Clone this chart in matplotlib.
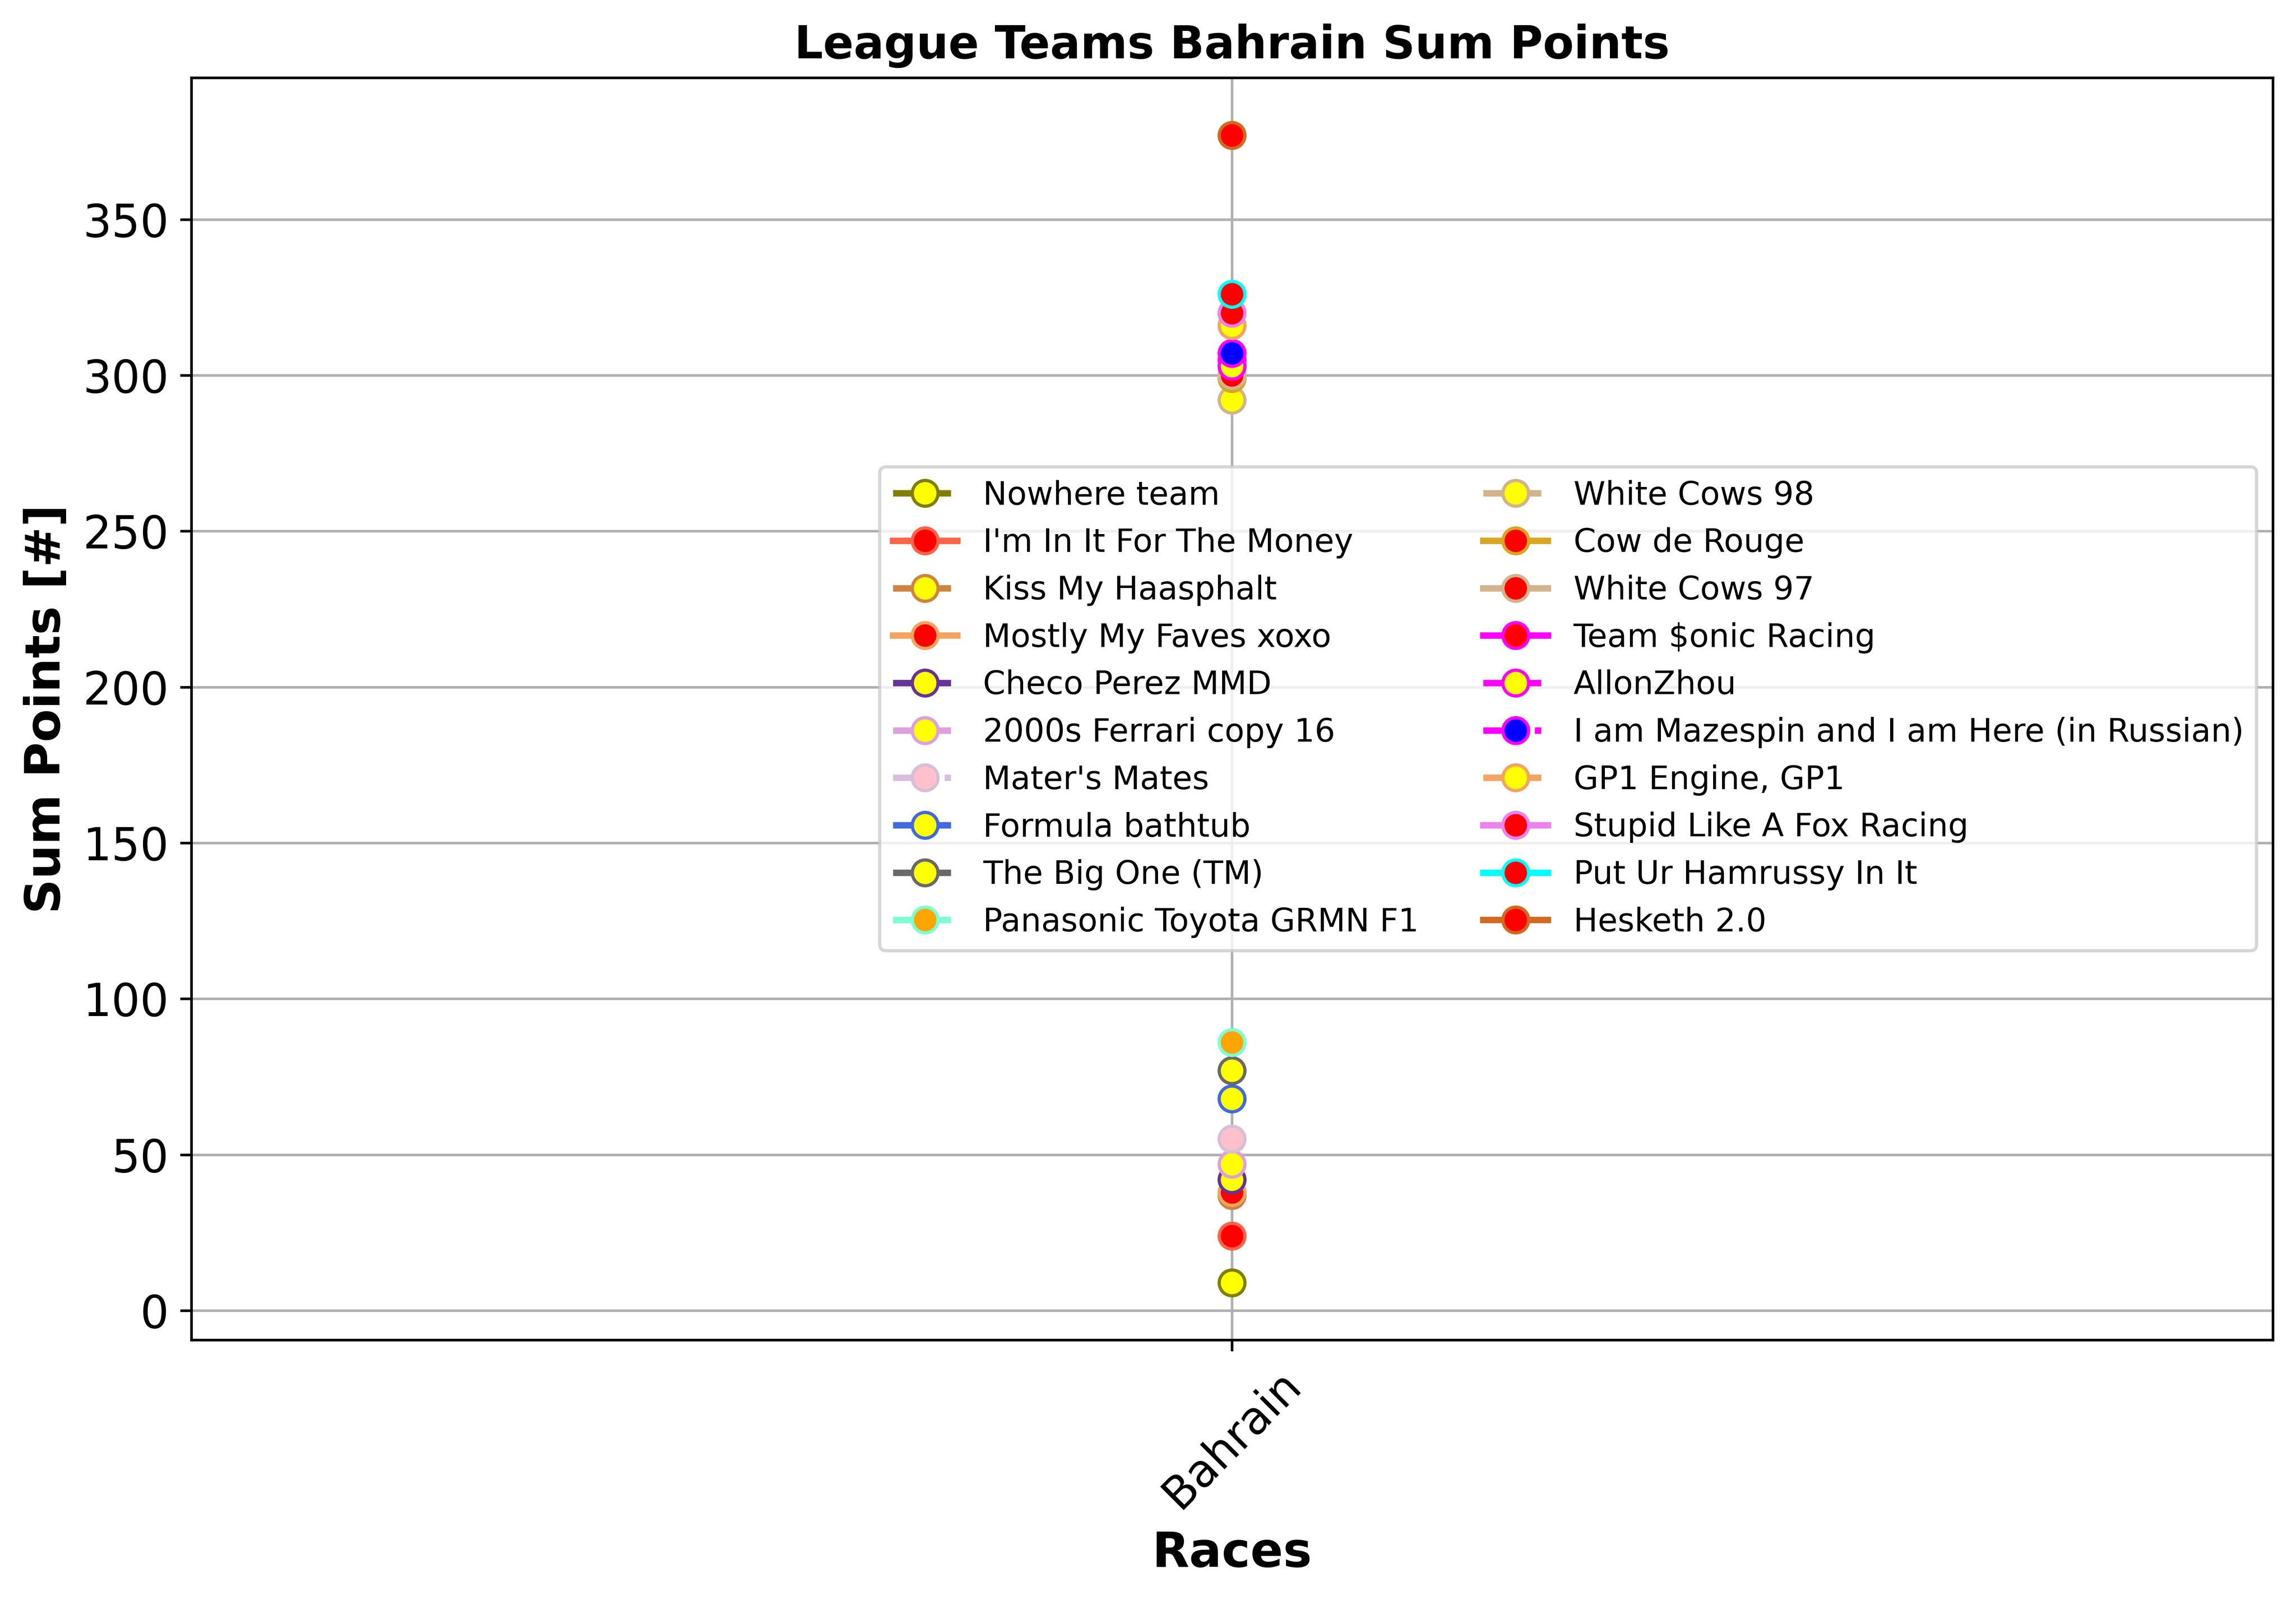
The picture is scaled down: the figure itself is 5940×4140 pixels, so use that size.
import matplotlib
matplotlib.use("Agg")
import matplotlib.pyplot as plt

race = ["Bahrain"]

teams = [
    "Nowhere team", "I'm In It For The Money", "Kiss My Haasphalt",
    "Mostly My Faves xoxo", "Checo Perez MMD", "2000s Ferrari copy 16",
    "Mater's Mates", "Formula bathtub", "The Big One (TM)",
    "Panasonic Toyota GRMN F1", "White Cows 98", "Cow de Rouge",
    "White Cows 97", "Team $onic Racing", "AllonZhou",
    "I am Mazespin and I am Here (in Russian)", "GP1 Engine, GP1",
    "Stupid Like A Fox Racing", "Put Ur Hamrussy In It", "Hesketh 2.0",
]

points = [9, 24, 37, 38, 42, 47, 55, 68, 77, 86,
          292, 299, 300, 305, 303, 307, 316, 320, 326, 377]

edge_colors = [
    "olive", "tomato", "peru", "sandybrown", "rebeccapurple", "plum",
    "thistle", "royalblue", "dimgray", "aquamarine", "tan", "goldenrod",
    "tan", "magenta", "magenta", "magenta", "sandybrown", "violet",
    "cyan", "chocolate",
]

face_colors = [
    "yellow", "red", "yellow", "red", "yellow", "yellow", "pink", "yellow",
    "yellow", "orange", "yellow", "red", "red", "red", "yellow", "blue",
    "yellow", "red", "red", "red",
]

line_styles = [
    "--", "-", "--", "-", "--", "--", "-.", "--", "--", "--",
    "--", "-", "-", "-", "--", "-.", "--", "-", "-", "-",
]

fig = plt.figure(figsize=(9.9, 6.9), dpi=600)
left, right, bottom, top = 0.0833, 0.9899, 0.16256, 0.95138
ax = fig.add_axes([left, bottom, right - left, top - bottom])

for name, val, ec, fc, ls in zip(teams, points, edge_colors, face_colors, line_styles):
    ax.plot(race, [val], linestyle=ls, color=ec, linewidth=2,
            marker="o", markersize=8, markeredgewidth=1,
            markerfacecolor=fc, markeredgecolor=ec, label=name)

ax.set_title("League Teams Bahrain Sum Points", fontsize=14, fontweight="bold")
ax.set_xlabel("Races", fontsize=15, fontweight="bold")
ax.set_ylabel("Sum Points [#]", fontsize=15, fontweight="bold")
ax.tick_params(axis="both", labelsize=14)
plt.setp(ax.get_xticklabels(), rotation=45)
ax.grid(True)
ax.legend(loc="center right", ncol=2, fontsize=10)

fig.savefig("out.png", dpi=600)
